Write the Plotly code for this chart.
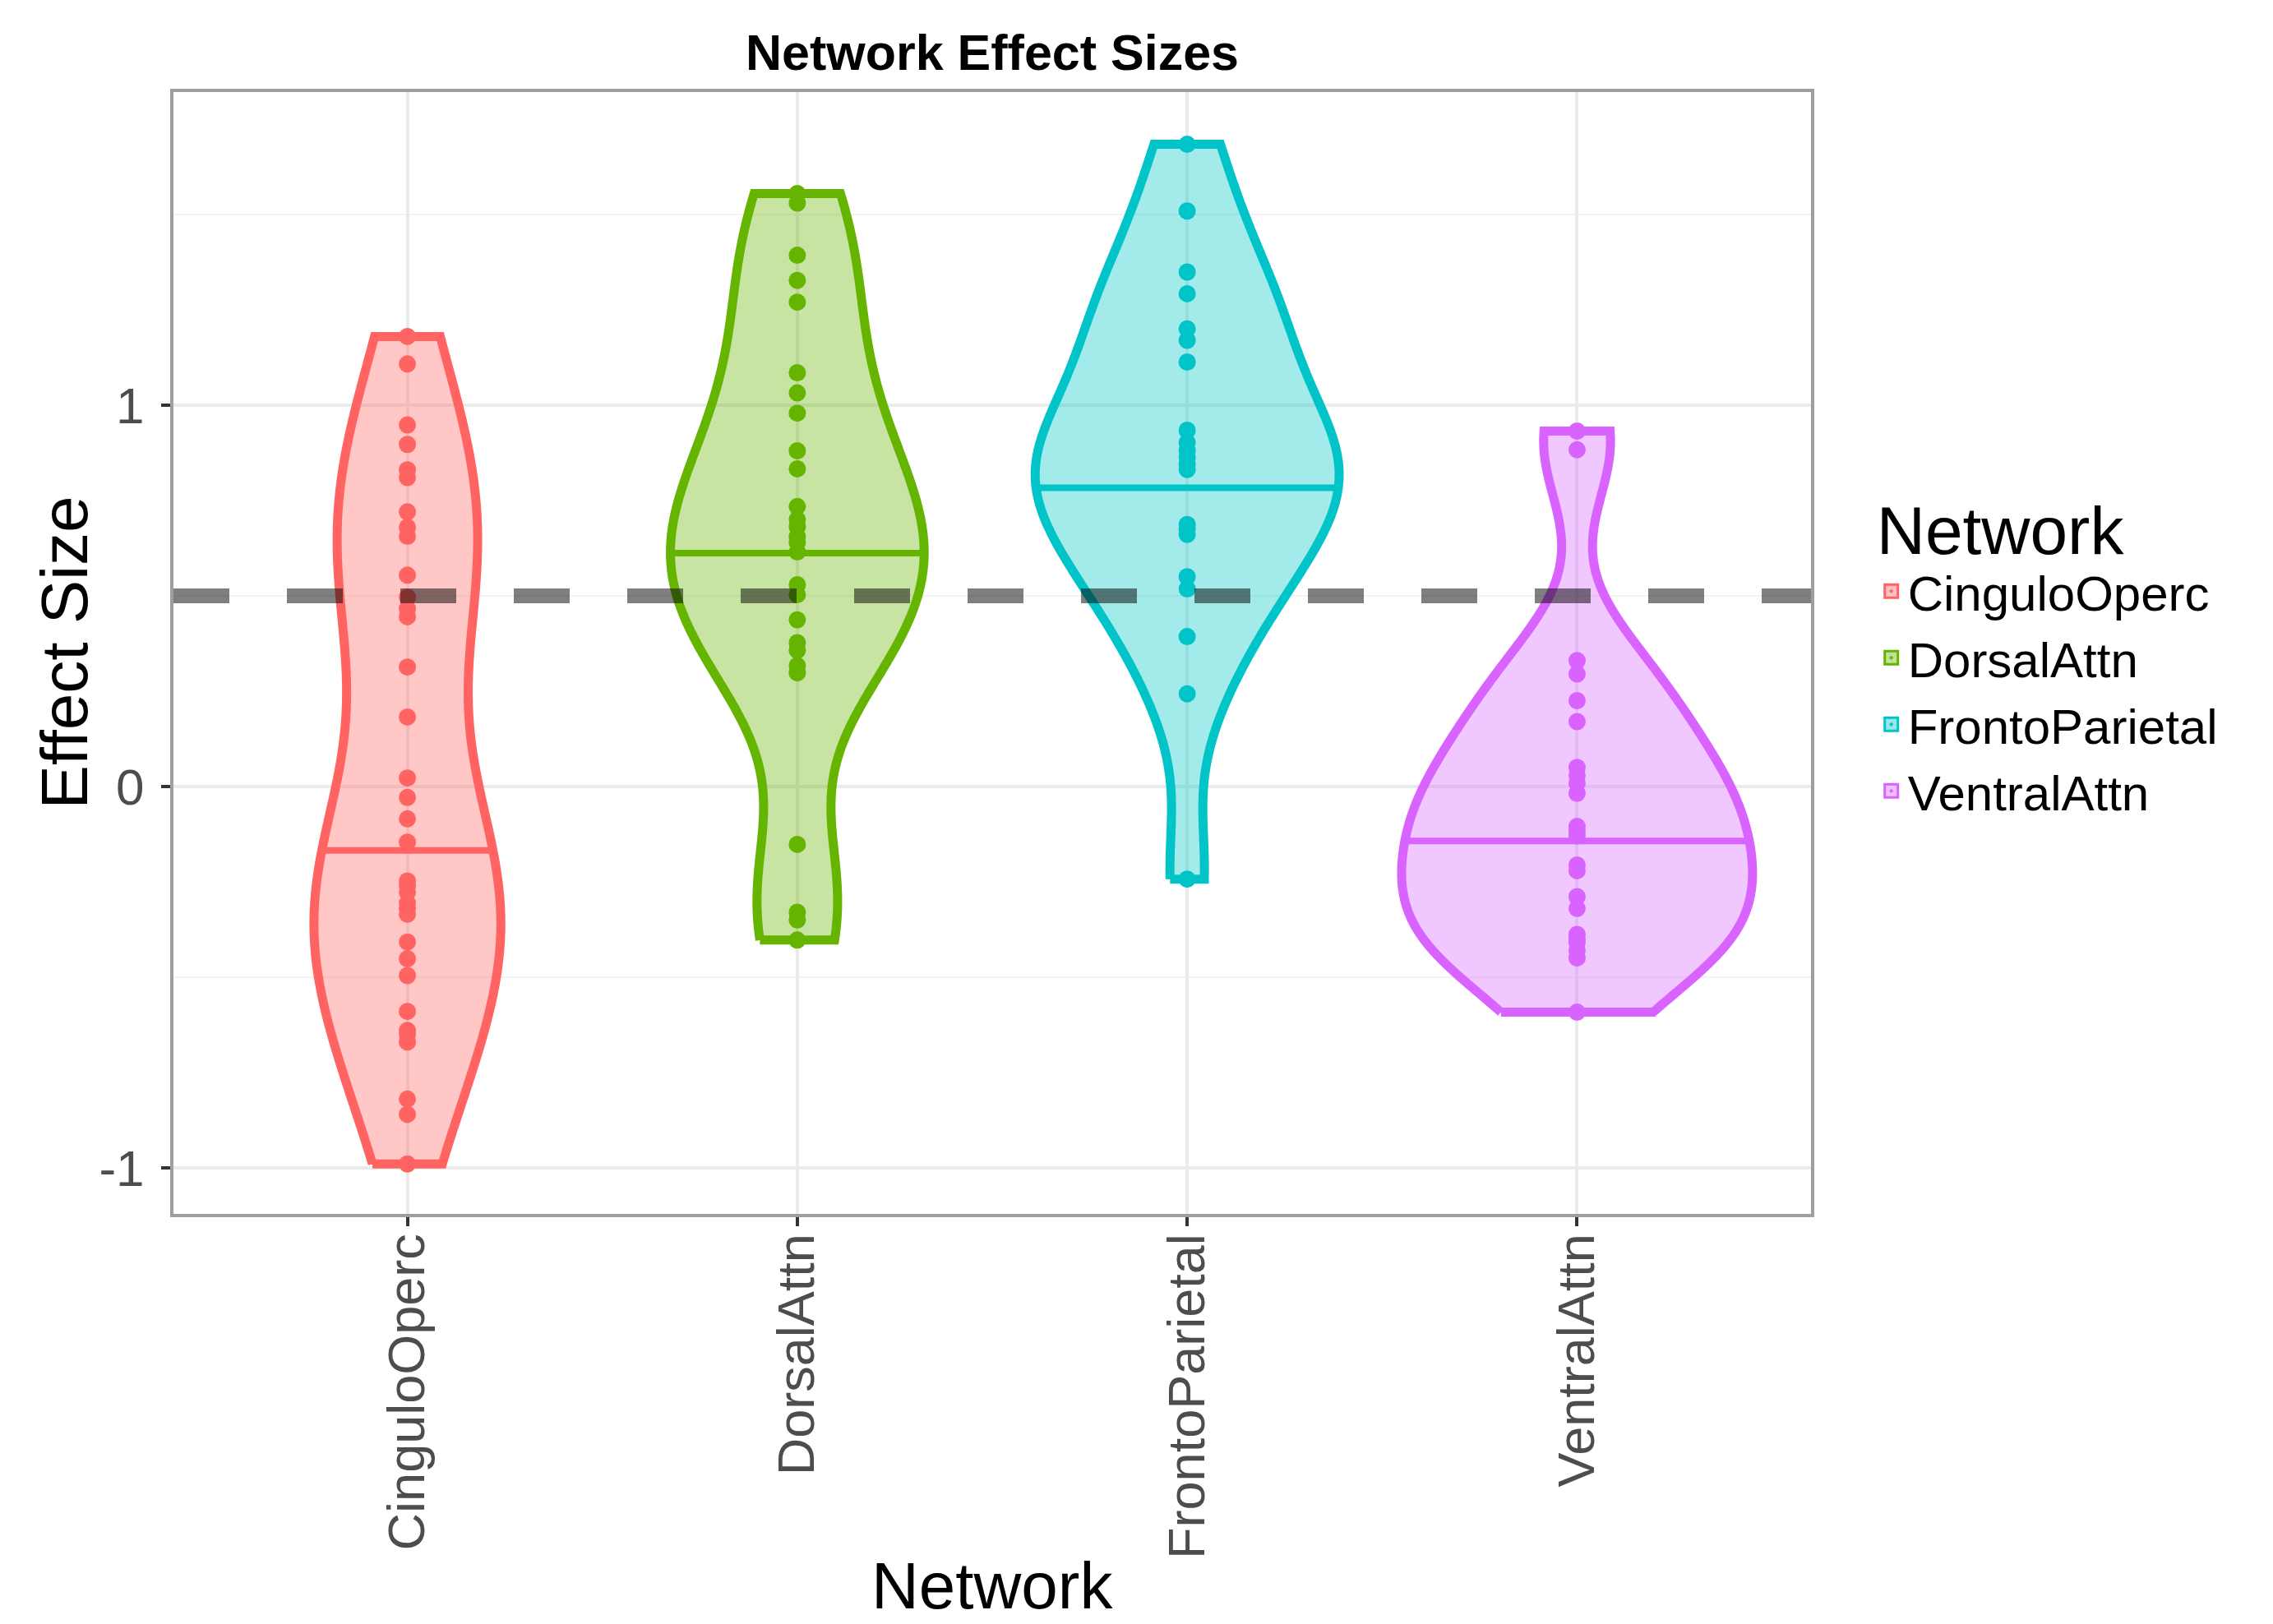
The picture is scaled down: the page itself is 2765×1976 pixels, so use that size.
import numpy as np
import plotly.graph_objects as go

# ---------------- data ----------------
CATEGORIES = ["CinguloOperc", "DorsalAttn", "FrontoParietal", "VentralAttn"]

CINGULO_OPERC = [1.18, 1.108, 0.948, 0.897, 0.83, 0.81, 0.72, 0.68, 0.656, 0.554,
                 0.496, 0.466, 0.445, 0.313, 0.182, 0.022, -0.029, -0.085, -0.146,
                 -0.248, -0.26, -0.277, -0.306, -0.32, -0.335, -0.408, -0.452,
                 -0.496, -0.59, -0.64, -0.65, -0.67, -0.82, -0.86, -0.99]
DORSAL_ATTN = [1.555, 1.53, 1.393, 1.327, 1.27, 1.085, 1.032, 0.979, 0.88, 0.833,
               0.734, 0.70, 0.681, 0.655, 0.64, 0.615, 0.529, 0.503, 0.437,
               0.377, 0.357, 0.317, 0.298, -0.152, -0.33, -0.35, -0.403]
FRONTO_PARIETAL = [1.684, 1.509, 1.349, 1.292, 1.2, 1.17, 1.113, 0.934, 0.902, 0.88,
                   0.863, 0.845, 0.831, 0.687, 0.675, 0.661, 0.55, 0.518, 0.393,
                   0.243, -0.243]
VENTRAL_ATTN = [0.932, 0.883, 0.33, 0.295, 0.225, 0.17, 0.05, 0.029, 0.008, -0.018,
                -0.105, -0.118, -0.13, -0.206, -0.221, -0.289, -0.32, -0.388, -0.40,
                -0.409, -0.43, -0.45, -0.592]

SERIES = [CINGULO_OPERC, DORSAL_ATTN, FRONTO_PARIETAL, VENTRAL_ATTN]
MEDIANS = [-0.168, 0.612, 0.783, -0.143]
REFERENCE_EFFECT = 0.5
Y_TICKS = [-1, 0, 1]
Y_TICK_LABELS = ["-1", "0", "1"]

LINE_COLORS = ["#FF6462", "#64B400", "#00C4C8", "#D963FF"]
FILL_ALPHA = 0.36

FONT = "Liberation Sans, Arial, Helvetica, sans-serif"

W, H = 2765, 1976
ML, MR, MT, MB = 203, 570, 104, 507


def hex_to_rgba(h, a):
    h = h.lstrip("#")
    r, g, b = int(h[0:2], 16), int(h[2:4], 16), int(h[4:6], 16)
    return f"rgba({r},{g},{b},{a})"


def bw_nrd0(x):
    x = np.asarray(x, dtype=float)
    sd = np.std(x, ddof=1)
    q75, q25 = np.percentile(x, [75, 25])
    lo = min(sd, (q75 - q25) / 1.34)
    if lo <= 0:
        lo = sd if sd > 0 else 1.0
    return 0.9 * lo * len(x) ** (-0.2)


def kde(x, grid):
    x = np.asarray(x, dtype=float)
    bw = bw_nrd0(x)
    u = (grid[:, None] - x[None, :]) / bw
    return np.exp(-0.5 * u ** 2).sum(axis=1) / (len(x) * bw * np.sqrt(2 * np.pi))


# densities over the trimmed data range (ggplot2 geom_violin, scale = "area")
grids, dens = [], []
for vals in SERIES:
    g = np.linspace(min(vals), max(vals), 512)
    grids.append(g)
    dens.append(kde(vals, g))
dmax = max(d.max() for d in dens)

fig = go.Figure()

for i, (name, vals) in enumerate(zip(CATEGORIES, SERIES)):
    col = LINE_COLORS[i]
    g, d = grids[i], dens[i]
    hw = 0.45 * d / dmax
    xs = np.concatenate([i - hw, (i + hw)[::-1], [i - hw[0]]])
    ys = np.concatenate([g, g[::-1], [g[0]]])
    fig.add_trace(go.Scatter(
        x=xs, y=ys, mode="lines", fill="toself",
        fillcolor=hex_to_rgba(col, FILL_ALPHA),
        line=dict(color=col, width=11, simplify=False),
        hoverinfo="skip", showlegend=False))
    # median line (draw_quantiles = 0.5)
    m = MEDIANS[i]
    mhw = float(np.interp(m, g, hw))
    fig.add_trace(go.Scatter(
        x=[i - mhw, i + mhw], y=[m, m], mode="lines",
        line=dict(color=col, width=8), hoverinfo="skip", showlegend=False))
    # data points
    fig.add_trace(go.Scatter(
        x=[i] * len(vals), y=vals, mode="markers",
        marker=dict(color=col, size=21, line=dict(width=0)),
        name=name, showlegend=False))

# legend keys
for i, name in enumerate(CATEGORIES):
    col = LINE_COLORS[i]
    fig.add_trace(go.Scatter(
        x=[None], y=[None], mode="markers", name=name,
        marker=dict(symbol="square-dot", size=16,
                    color=hex_to_rgba(col, 0.4),
                    line=dict(color=col, width=3))))

fig.add_shape(type="line", xref="paper", x0=0, x1=1,
              yref="y", y0=REFERENCE_EFFECT, y1=REFERENCE_EFFECT,
              line=dict(color="rgba(0,0,0,0.5)", width=18, dash="68px,70px"),
              layer="above")

pw, ph = W - ML - MR, H - MT - MB

# axis titles
fig.add_annotation(text="Effect Size", xref="paper", yref="paper",
                   x=(70 - ML) / pw, y=0.5, xanchor="center", yanchor="middle",
                   textangle=-90, showarrow=False,
                   font=dict(size=80, color="black", family=FONT))
fig.add_annotation(text="Network", xref="paper", yref="paper",
                   x=0.5, y=-(1921 - (H - MB)) / ph, xanchor="center",
                   yanchor="middle", showarrow=False,
                   font=dict(size=80, color="black", family=FONT))

fig.update_layout(
    width=W, height=H,
    paper_bgcolor="white", plot_bgcolor="white",
    margin=dict(l=ML, r=MR, t=MT, b=MB, autoexpand=False),
    font=dict(family=FONT, color="black"),
    title=dict(text="<b>Network Effect Sizes</b>", x=0.5, xref="paper",
               xanchor="center", y=1 - 56 / H, yref="container",
               yanchor="middle", font=dict(size=61, color="black", family=FONT)),
    legend=dict(
        title=dict(text="Network", font=dict(size=82, color="black", family=FONT)),
        font=dict(size=60, color="black", family=FONT),
        x=1.039, xanchor="left", y=0.505, yanchor="middle",
        bgcolor="rgba(0,0,0,0)", borderwidth=0, itemsizing="trace",
        traceorder="normal"),
)

fig.update_xaxes(
    range=[-0.6, 3.6], tickmode="array", tickvals=list(range(len(CATEGORIES))),
    ticktext=CATEGORIES, tickangle=-90, zeroline=False,
    showgrid=True, gridcolor="#EBEBEB", gridwidth=4,
    showline=True, mirror=True, linecolor="#9E9E9E", linewidth=4,
    ticks="outside", ticklen=11, tickwidth=4, tickcolor="#333333",
    ticklabelstandoff=-16,
    tickfont=dict(size=63, color="#4D4D4D", family=FONT),
)
fig.update_yaxes(
    range=[-1.121, 1.821], tickmode="array", tickvals=Y_TICKS, ticktext=Y_TICK_LABELS,
    zeroline=False, showgrid=True, gridcolor="#EBEBEB", gridwidth=4,
    minor=dict(dtick=0.5, tick0=0, showgrid=True, gridcolor="#F3F3F3", gridwidth=2,
               ticks=""),
    showline=True, mirror=True, linecolor="#9E9E9E", linewidth=4,
    ticks="outside", ticklen=11, tickwidth=4, tickcolor="#333333",
    ticklabelstandoff=8,
    tickfont=dict(size=62, color="#4D4D4D", family=FONT),
)

fig.write_html("out.html")
